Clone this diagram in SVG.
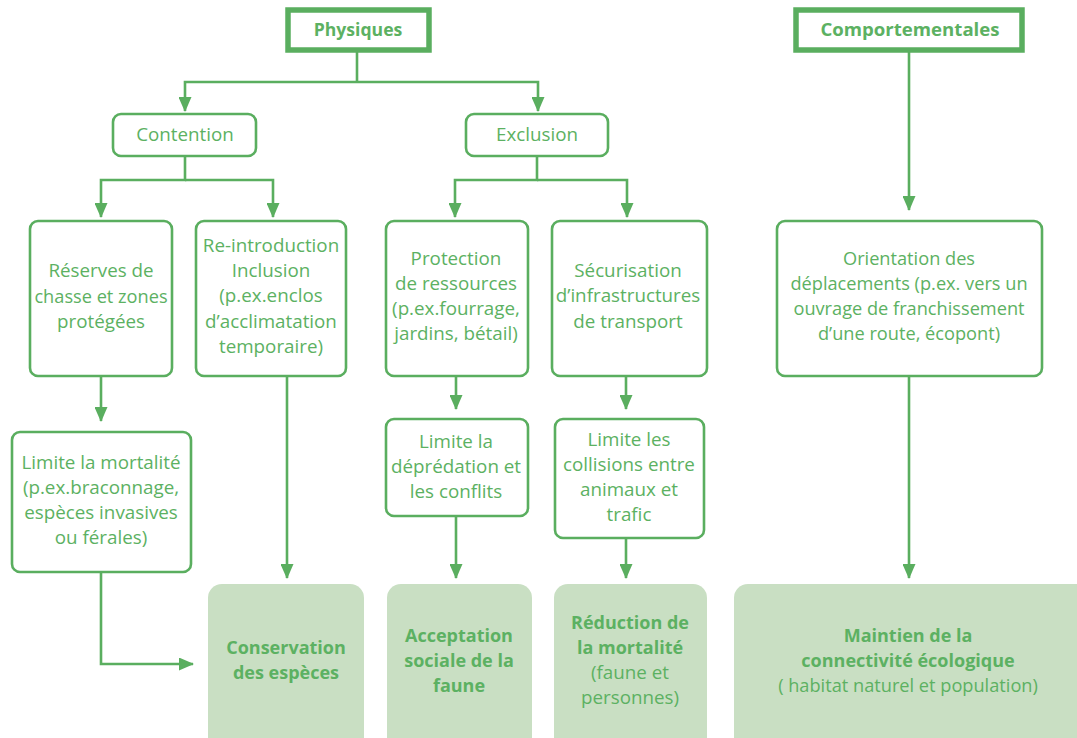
<svg xmlns="http://www.w3.org/2000/svg" width="1077" height="738" viewBox="0 0 1077 738">
<defs>
<style>
.box{fill:#ffffff;stroke:#5aae5f;stroke-width:2.6}
.head{fill:#ffffff;stroke:#5aae5f;stroke-width:5.5}
.res{fill:#c9dfc3;stroke:none}
.t{font-family:"Open Sans","Liberation Sans",sans-serif;font-size:18.8px;fill:#5cb162;text-anchor:middle}
.b{font-weight:bold;font-size:18px}
.s{font-size:18.2px}
.hb{font-family:"Open Sans","Liberation Sans",sans-serif;font-size:17.6px;font-weight:bold;fill:#5cb162;text-anchor:middle}
.c{fill:none;stroke:#5aae5f;stroke-width:2.6}
</style>
<marker id="ah" markerUnits="userSpaceOnUse" markerWidth="15" markerHeight="13" viewBox="0 0 15 13" refX="14" refY="6.5" orient="auto">
<path d="M0,0 L15,6.5 L0,13 z" fill="#5aae5f"/>
</marker>
</defs>

<g id="connectors">
<path class="c" d="M357,52 V82"/>
<path class="c" d="M357,82 H185 V111" marker-end="url(#ah)"/>
<path class="c" d="M357,82 H538 V111" marker-end="url(#ah)"/>
<path class="c" d="M185,156 V180 H101 V217" marker-end="url(#ah)"/>
<path class="c" d="M185,180 H273 V217" marker-end="url(#ah)"/>
<path class="c" d="M537,156 V180 H455 V217" marker-end="url(#ah)"/>
<path class="c" d="M537,180 H627 V217" marker-end="url(#ah)"/>
<path class="c" d="M909,52 V210" marker-end="url(#ah)"/>
<path class="c" d="M101,376 V421" marker-end="url(#ah)"/>
<path class="c" d="M287,376 V578" marker-end="url(#ah)"/>
<path class="c" d="M456,376 V409" marker-end="url(#ah)"/>
<path class="c" d="M456,516 V578" marker-end="url(#ah)"/>
<path class="c" d="M626,376 V409" marker-end="url(#ah)"/>
<path class="c" d="M626,538 V578" marker-end="url(#ah)"/>
<path class="c" d="M909,376 V578" marker-end="url(#ah)"/>
<path class="c" d="M101,572 V664 H193" marker-end="url(#ah)"/>
</g>

<g id="physiques">
<rect class="head" x="288" y="10" width="141" height="40"/>
<text class="hb" x="358" y="36">Physiques</text>
</g>
<g id="comportementales">
<rect class="head" x="796" y="10" width="226" height="40"/>
<text class="hb" x="910" y="36" style="font-size:18.6px">Comportementales</text>
</g>

<g id="contention">
<rect class="box" x="113" y="114" width="143" height="42" rx="8"/>
<text class="t" x="185" y="141">Contention</text>
</g>
<g id="exclusion">
<rect class="box" x="466" y="114" width="142" height="42" rx="8"/>
<text class="t" x="537" y="141">Exclusion</text>
</g>

<g id="reserves">
<rect class="box" x="30" y="221" width="142" height="155" rx="8"/>
<text class="t" x="101" y="277">Réserves de</text>
<text class="t s" x="101" y="303">chasse et zones</text>
<text class="t" x="101" y="328">protégées</text>
</g>
<g id="reintroduction">
<rect class="box" x="196" y="221" width="150" height="155" rx="8"/>
<text class="t" x="271" y="252">Re-introduction</text>
<text class="t" x="271" y="277">Inclusion</text>
<text class="t" x="271" y="302">(p.ex.enclos</text>
<text class="t" x="271" y="328">d’acclimatation</text>
<text class="t" x="271" y="353">temporaire)</text>
</g>
<g id="protection">
<rect class="box" x="386" y="221" width="142" height="155" rx="8"/>
<text class="t" x="456" y="265">Protection</text>
<text class="t" x="456" y="290">de ressources</text>
<text class="t" x="456" y="315">(p.ex.fourrage,</text>
<text class="t" x="456" y="340">jardins, bétail)</text>
</g>
<g id="securisation">
<rect class="box" x="552" y="221" width="155" height="155" rx="8"/>
<text class="t" x="628" y="277">Sécurisation</text>
<text class="t" x="628" y="302">d’infrastructures</text>
<text class="t" x="628" y="328">de transport</text>
</g>
<g id="orientation">
<rect class="box" x="777" y="221" width="265" height="155" rx="8"/>
<text class="t s" x="909" y="265">Orientation des</text>
<text class="t s" x="909" y="290">déplacements (p.ex. vers un</text>
<text class="t s" x="909" y="315">ouvrage de franchissement</text>
<text class="t s" x="909" y="340">d’une route, écopont)</text>
</g>

<g id="limite-mortalite">
<rect class="box" x="12" y="432" width="179" height="140" rx="8"/>
<text class="t" x="101" y="469">Limite la mortalité</text>
<text class="t" x="101" y="494">(p.ex.braconnage,</text>
<text class="t" x="101" y="519">espèces invasives</text>
<text class="t" x="101" y="544">ou férales)</text>
</g>
<g id="limite-depredation">
<rect class="box" x="386" y="419" width="142" height="97" rx="8"/>
<text class="t" x="456" y="448">Limite la</text>
<text class="t" x="456" y="473">déprédation et</text>
<text class="t" x="456" y="498">les conflits</text>
</g>
<g id="limite-collisions">
<rect class="box" x="555" y="419" width="149" height="119" rx="8"/>
<text class="t" x="629" y="446">Limite les</text>
<text class="t" x="629" y="471">collisions entre</text>
<text class="t" x="629" y="496">animaux et</text>
<text class="t" x="629" y="521">trafic</text>
</g>

<g id="conservation">
<rect class="res" x="208" y="584" width="156" height="170" rx="14"/>
<text class="t b" x="286" y="654">Conservation</text>
<text class="t b" x="286" y="679">des espèces</text>
</g>
<g id="acceptation">
<rect class="res" x="387" y="584" width="145" height="170" rx="14"/>
<text class="t b" x="459" y="642">Acceptation</text>
<text class="t b" x="459" y="667">sociale de la</text>
<text class="t b" x="459" y="692">faune</text>
</g>
<g id="reduction">
<rect class="res" x="554" y="584" width="153" height="170" rx="14"/>
<text class="t b" x="630" y="629">Réduction de</text>
<text class="t b" x="630" y="654">la mortalité</text>
<text class="t" x="630" y="679">(faune et</text>
<text class="t" x="630" y="704">personnes)</text>
</g>
<g id="maintien">
<rect class="res" x="734" y="584" width="360" height="170" rx="14"/>
<text class="t b" x="908" y="642">Maintien de la</text>
<text class="t b" x="908" y="667">connectivité écologique</text>
<text class="t s" x="908" y="692">( habitat naturel et population)</text>
</g>
</svg>
